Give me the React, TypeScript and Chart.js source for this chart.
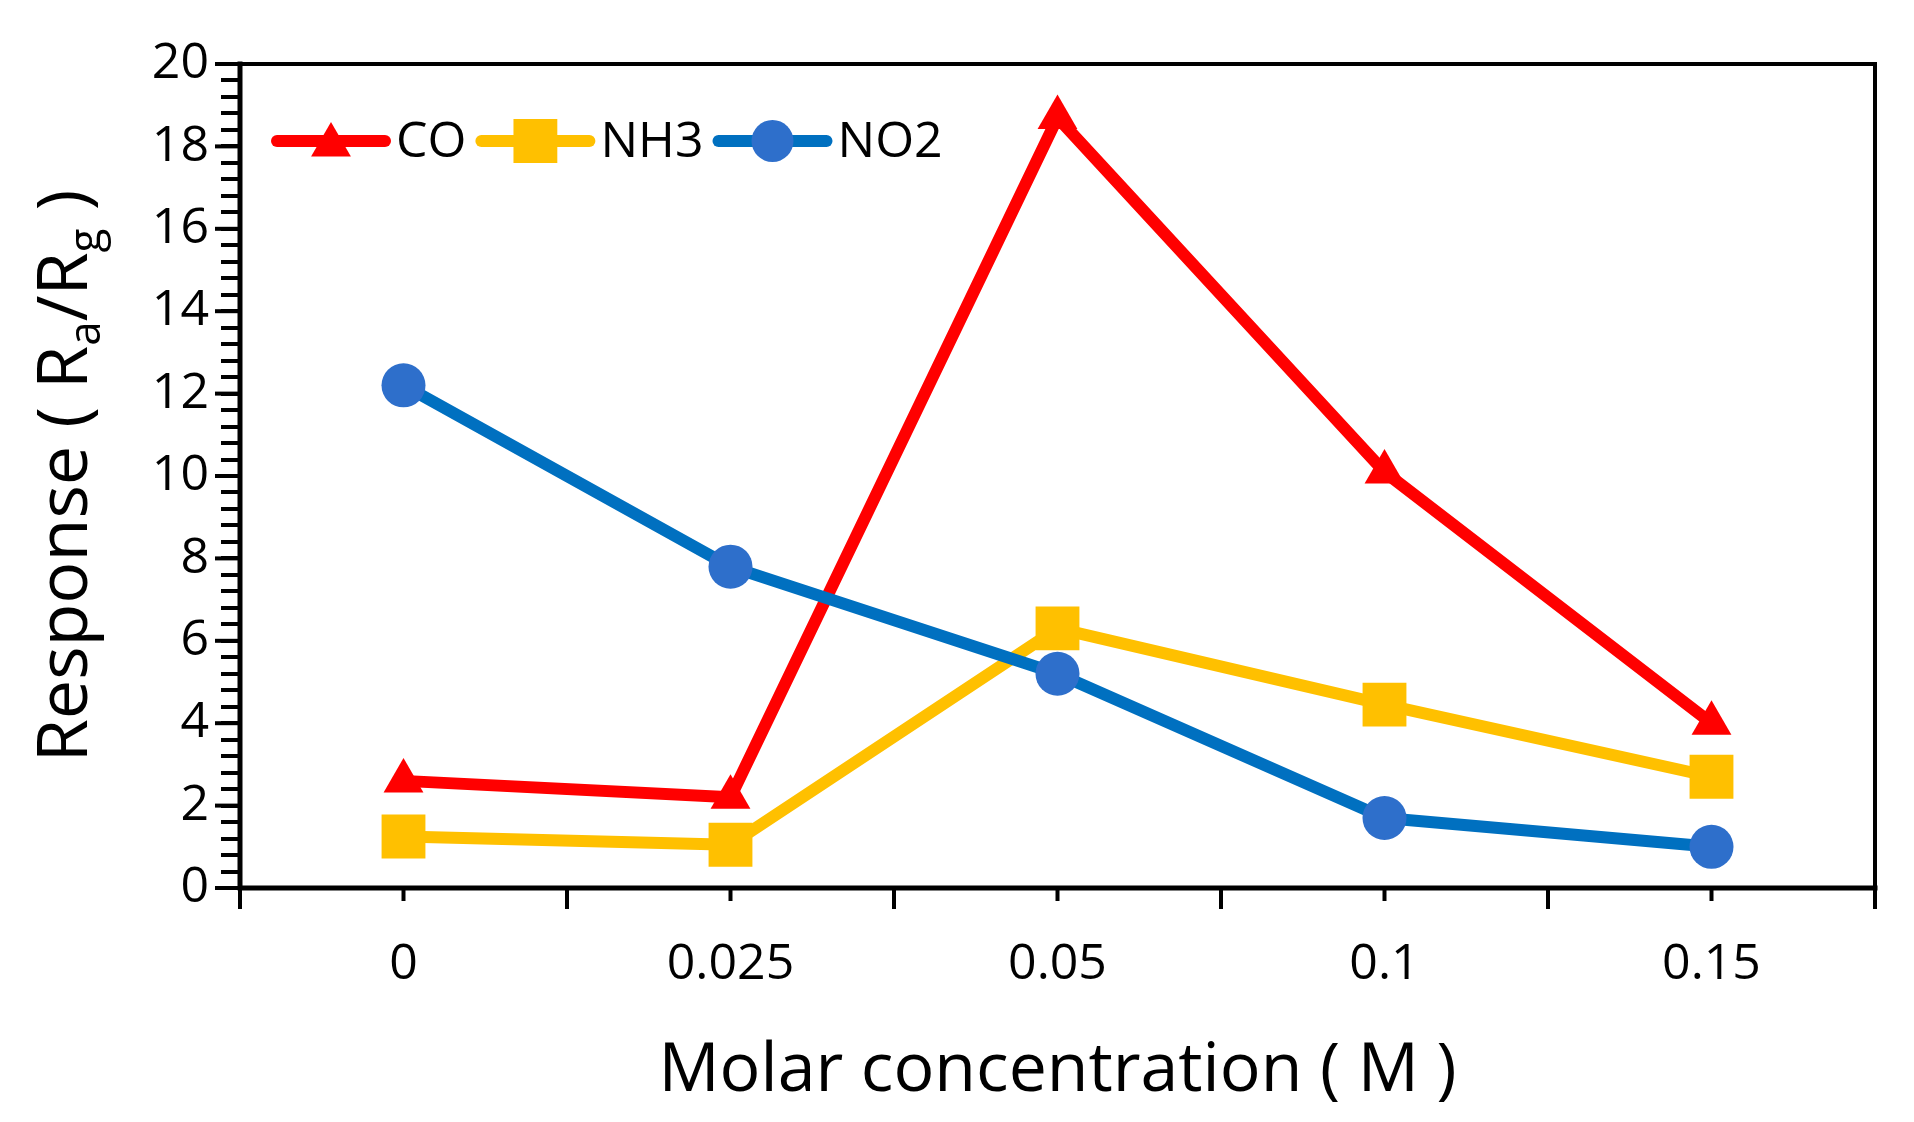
import React, { useEffect, useRef } from "react";
import { Chart, registerables } from "chart.js";

Chart.register(...registerables);

const categories = ["0", "0.025", "0.05", "0.1", "0.15"];
const coValues = [2.6, 2.2, 18.7, 10.1, 4.0];
const nh3Values = [1.25, 1.05, 6.3, 4.45, 2.7];
const no2Values = [12.2, 7.8, 5.2, 1.7, 1.0];
const yMin = 0;
const yMax = 20;
const yMajorStep = 2;
const yMinorStep = 0.4;

const FONT = "'Open Sans', 'Noto Sans', sans-serif";
const RED = "#FF0000";
const YELLOW = "#FFC000";
const BLUE_LINE = "#0070C0";
const BLUE_MARK = "#2E6FCB";
const LINE_W = 12;

const legendItems = [
  { label: "CO", color: RED, marker: RED, style: "triangle", r: 23 },
  { label: "NH3", color: YELLOW, marker: YELLOW, style: "rect", r: 31 },
  { label: "NO2", color: BLUE_LINE, marker: BLUE_MARK, style: "circle", r: 21 },
];

// same geometry as chart.js point styles
function drawMarker(ctx: CanvasRenderingContext2D, style: string, x: number, y: number, r: number, color: string) {
  ctx.fillStyle = color;
  ctx.beginPath();
  if (style === "circle") {
    ctx.arc(x, y, r, 0, Math.PI * 2);
  } else if (style === "rect") {
    const s = r * Math.SQRT1_2;
    ctx.rect(x - s, y - s, 2 * s, 2 * s);
  } else {
    let a = 0;
    ctx.moveTo(x + Math.sin(a) * r, y - Math.cos(a) * r);
    a += (2 * Math.PI) / 3;
    ctx.lineTo(x + Math.sin(a) * r, y - Math.cos(a) * r);
    a += (2 * Math.PI) / 3;
    ctx.lineTo(x + Math.sin(a) * r, y - Math.cos(a) * r);
    ctx.closePath();
  }
  ctx.fill();
}

const decorPlugin = {
  id: "decor",
  beforeDatasetsDraw(chart: any) {
    const { ctx, chartArea: a, scales } = chart;
    ctx.save();
    ctx.strokeStyle = "#000";
    ctx.lineWidth = 4;
    ctx.lineCap = "square";
    ctx.beginPath();
    ctx.moveTo(a.left, a.top);
    ctx.lineTo(a.right, a.top);
    ctx.lineTo(a.right, a.bottom);
    ctx.stroke();
    ctx.lineWidth = 5;
    ctx.beginPath();
    ctx.moveTo(a.left, a.top);
    ctx.lineTo(a.left, a.bottom);
    ctx.lineTo(a.right, a.bottom);
    ctx.stroke();
    // short tick marks under each category
    ctx.lineWidth = 4;
    ctx.lineCap = "butt";
    categories.forEach((_, i) => {
      const px = scales.x.getPixelForValue(i);
      ctx.beginPath();
      ctx.moveTo(px, a.bottom);
      ctx.lineTo(px, a.bottom + 13);
      ctx.stroke();
    });
    // major y ticks a bit longer
    for (let v = yMin; v <= yMax; v += yMajorStep) {
      const py = scales.y.getPixelForValue(v);
      ctx.beginPath();
      ctx.moveTo(a.left, py);
      ctx.lineTo(a.left - 25, py);
      ctx.stroke();
    }
    ctx.restore();
  },
  afterDraw(chart: any) {
    const { ctx, chartArea: a } = chart;
    ctx.save();
    // legend inside plot area
    let x = a.left + 37;
    const y = a.top + 77;
    ctx.font = `50px ${FONT}`;
    ctx.textBaseline = "middle";
    ctx.textAlign = "left";
    legendItems.forEach((it) => {
      ctx.strokeStyle = it.color;
      ctx.lineWidth = LINE_W;
      ctx.lineCap = "round";
      ctx.beginPath();
      ctx.moveTo(x, y);
      ctx.lineTo(x + 108, y);
      ctx.stroke();
      drawMarker(ctx, it.style, x + 54, it.style === "triangle" ? y + 4 : y, it.r, it.marker);
      ctx.fillStyle = "#000";
      ctx.fillText(it.label, x + 119, y + 2);
      x += 119 + ctx.measureText(it.label).width + 15;
    });

    // y axis title with subscripts
    const parts = [
      { t: "Response ( R", sub: false },
      { t: "a", sub: true },
      { t: "/R", sub: false },
      { t: "g", sub: true },
      { t: " )", sub: false },
    ];
    const big = `70px ${FONT}`;
    const small = `44px ${FONT}`;
    let total = 0;
    parts.forEach((p) => {
      ctx.font = p.sub ? small : big;
      total += ctx.measureText(p.t).width;
    });
    ctx.translate(54, (a.top + a.bottom) / 2);
    ctx.rotate(-Math.PI / 2);
    ctx.fillStyle = "#000";
    ctx.textBaseline = "alphabetic";
    let tx = -total / 2;
    parts.forEach((p) => {
      ctx.font = p.sub ? small : big;
      ctx.fillText(p.t, tx, p.sub ? 38 : 25);
      tx += ctx.measureText(p.t).width;
    });
    ctx.restore();
  },
};

export default function App() {
  const canvasRef = useRef<HTMLCanvasElement>(null);

  useEffect(() => {
    if (!canvasRef.current) return;
    const chart = new Chart(canvasRef.current, {
      type: "line",
      data: {
        labels: categories,
        datasets: [
          {
            label: "CO",
            data: coValues,
            borderColor: RED,
            backgroundColor: RED,
            pointBackgroundColor: RED,
            pointBorderWidth: 0,
            pointStyle: "triangle",
            pointRadius: 23,
            borderWidth: LINE_W,
            order: 3,
          },
          {
            label: "NH3",
            data: nh3Values,
            borderColor: YELLOW,
            backgroundColor: YELLOW,
            pointBackgroundColor: YELLOW,
            pointBorderWidth: 0,
            pointStyle: "rect",
            pointRadius: 31,
            borderWidth: LINE_W,
            order: 2,
          },
          {
            label: "NO2",
            data: no2Values,
            borderColor: BLUE_LINE,
            backgroundColor: BLUE_MARK,
            pointBackgroundColor: BLUE_MARK,
            pointBorderWidth: 0,
            pointStyle: "circle",
            pointRadius: 22,
            borderWidth: LINE_W,
            order: 1,
          },
        ],
      },
      options: {
        animation: false,
        responsive: true,
        maintainAspectRatio: false,
        layout: { padding: { left: 0, top: 56, right: 30, bottom: 0 } },
        elements: {
          line: { borderJoinStyle: "round", borderCapStyle: "round", tension: 0 },
          point: { hoverRadius: 22 },
        },
        plugins: {
          legend: { display: false },
          tooltip: { enabled: false },
        },
        scales: {
          x: {
            type: "category",
            offset: true,
            border: { display: false },
            grid: {
              offset: true,
              drawOnChartArea: false,
              drawTicks: true,
              tickLength: 21,
              color: "#000",
              lineWidth: 4,
            },
            ticks: {
              color: "#000",
              font: { family: FONT, size: 50 },
              padding: 26,
              maxRotation: 0,
            },
            title: {
              display: true,
              text: "Molar concentration ( M )",
              color: "#000",
              font: { family: FONT, size: 68 },
              padding: { top: 0, bottom: 2 },
            },
            afterFit: (s: any) => {
              s.height = 226;
            },
          },
          y: {
            min: yMin,
            max: yMax,
            border: { display: false },
            grid: {
              drawOnChartArea: false,
              drawTicks: true,
              tickLength: 19,
              color: "#000",
              lineWidth: 4,
            },
            ticks: {
              stepSize: yMinorStep,
              autoSkip: false,
              color: "#000",
              font: { family: FONT, size: 50 },
              padding: 12,
              callback: (v: any) => {
                const n = Number(v);
                const q = n / yMajorStep;
                return Math.abs(q - Math.round(q)) < 1e-6 ? String(Math.round(n)) : "";
              },
            },
            afterFit: (s: any) => {
              s.width = 232;
            },
          },
        },
      },
      plugins: [decorPlugin],
    });
    return () => {
      chart.destroy();
    };
  }, []);

  return (
    <div style={{ width: 1898, height: 1106, position: "relative" }}>
      <canvas ref={canvasRef} />
    </div>
  );
}
